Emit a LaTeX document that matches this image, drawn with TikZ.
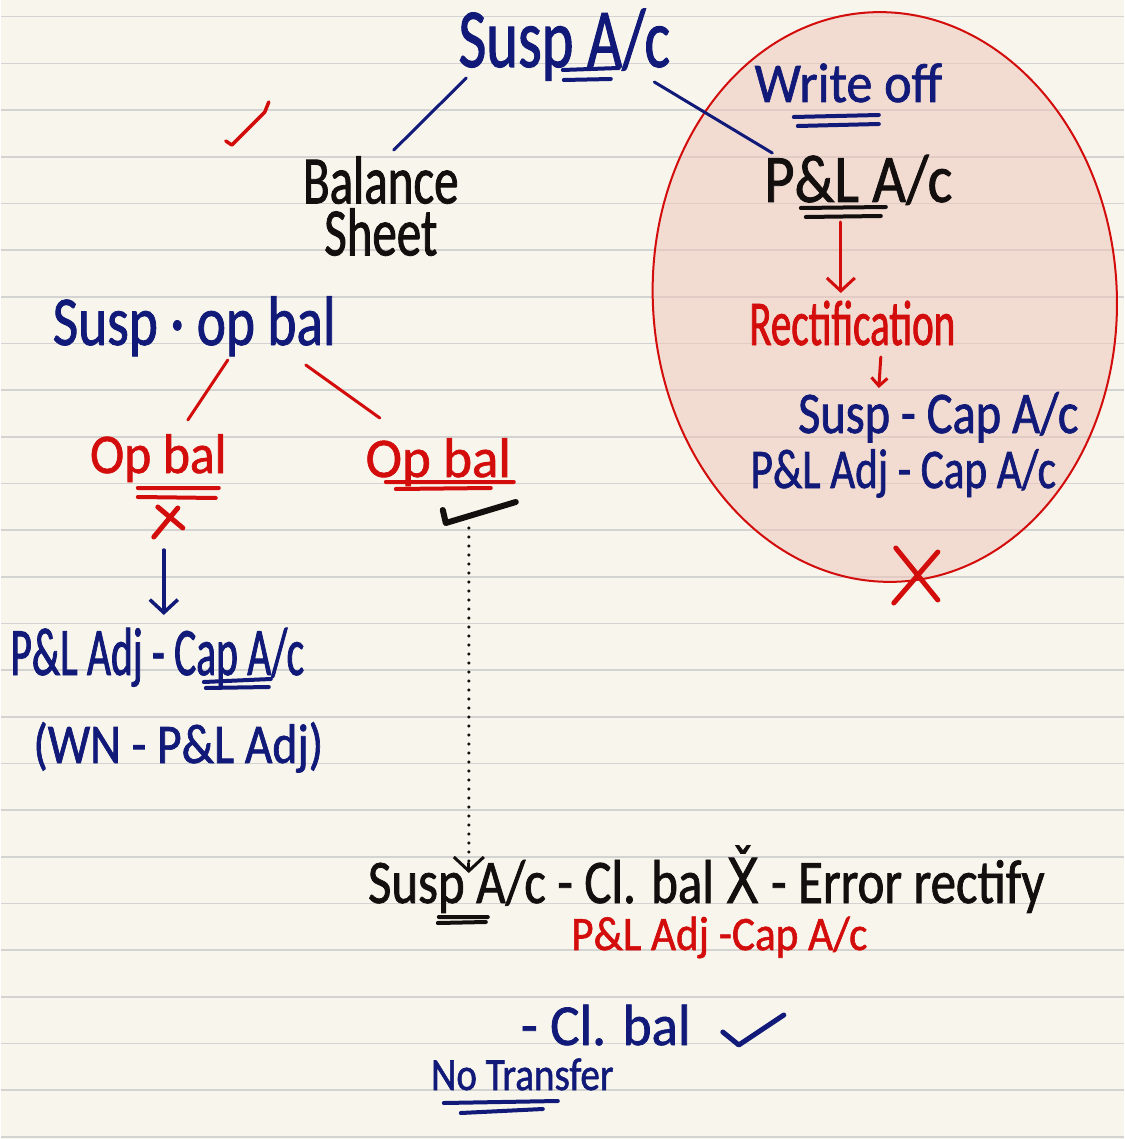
\documentclass[tikz,border=0pt]{standalone}
\usepackage{fontspec}
\newfontfamily\handfont[FakeBold=1.2]{Carlito}
\newfontfamily\markfont[FakeStretch=0.8,FakeBold=1.2]{DejaVu Sans}
\usepackage{xcolor}
\definecolor{notepaper}{HTML}{F8F6EC}
\definecolor{noterule}{HTML}{D3D3D1}
\definecolor{notenavy}{HTML}{111A78}
\definecolor{notered}{HTML}{D30C0C}
\definecolor{noteink}{HTML}{140F0F}
\definecolor{notepink}{HTML}{EEC6BB}
\usepackage{tikz}
\usetikzlibrary{arrows.meta,positioning,calc}
\tikzset{
  notetxt/.style 2 args={inner sep=0pt,anchor=base,font=\handfont\addfontfeatures{FakeStretch=#2}\fontsize{#1}{#1}\selectfont},
  navytxt/.style 2 args={notetxt={#1}{#2},text=notenavy},
  redtxt/.style 2 args={notetxt={#1}{#2},text=notered},
  inktxt/.style 2 args={notetxt={#1}{#2},text=noteink},
  penline/.style={line width=3pt,line cap=round,line join=round},
  penflow/.style={penline,-{Straight Barb[length=13pt,width=28pt]}},
  pendots/.style={line width=3.5pt,line cap=round,dash pattern=on 0pt off 9pt},
  penmark/.style={line width=5pt,line cap=round,line join=round},
  dblul/.style={line width=4pt,line cap=round},
}

\begin{document}
\begin{tikzpicture}[x=1pt,y=-1pt]
% lined paper
\fill[notepaper] (0,0) rectangle (1123,1139);
\foreach \k in {0,...,24}
  \draw[noterule,line width=1.6pt] (0,16.7+46.67*\k) -- (1123,16.7+46.67*\k);
\useasboundingbox (0,0) rectangle (1123,1139);
% write off bubble
\begin{scope}[shift={(884,297)},rotate=3]
  \filldraw[fill=notepink,fill opacity=.55,draw=notered,line width=2pt] (0,0) ellipse [x radius=232,y radius=285];
\end{scope}

\node[navytxt={84}{.72}] (susp) at (563.5,67) {Susp A/c};
\node[inktxt={68}{.72},align=center,anchor=north] (bs) at (380,156) {Balance\\[-16pt]Sheet};
\node[navytxt={70}{.79}] (sob) at (193.5,345) {Susp · op bal};
\node[redtxt={56}{.92}] (oba) at (157.5,473) {Op bal};
\node[redtxt={56}{.98}] (obb) at (437.5,477) {Op bal};
\node[navytxt={68}{.61}] (adja) at (156.5,675) {P\&L Adj - Cap A/c};
\node[navytxt={56}{.85}] (wn) at (177.5,763) {(WN - P\&L Adj)};

\node[navytxt={56}{.93}] (wo) at (847.5,102) {Write off};
\node[inktxt={68}{.86}] (pl) at (857.5,202) {P\&L A/c};
\node[redtxt={64}{.64}] (rect) at (851.5,345) {Rectification};
\node[navytxt={59}{.82}] (scap) at (937.5,433) {Susp - Cap A/c};
\node[navytxt={56}{.77}] (adjb) at (902.5,488) {P\&L Adj - Cap A/c};

\node[inktxt={62}{.82}] (clx) at (705.5,903) {Susp A/c - Cl. bal {\markfont\v{X}} - Error rectify};
\node[redtxt={48}{.90}] (adjc) at (718.5,950) {P\&L Adj -Cap A/c};
\node[navytxt={58}{.95}] (clok) at (605,1045) {- Cl. bal};
\node[navytxt={46}{.85}] (nt) at (521.5,1090) {No Transfer};

% connectors
\draw[penline,notenavy] ($(susp.base)+(-98,11)$) -- ($(bs.north)+(13,-6)$);
\draw[penline,notenavy] ($(susp.base)+(90,15)$) -- ($(pl.base)+(-86,-49)$);
\draw[penline,notered] ($(sob.base)+(33.5,15)$) -- ($(oba.base)+(29.5,-53)$);
\draw[penline,notered] ($(sob.base)+(111.5,20)$) -- ($(obb.base)+(-58.5,-59)$);
\draw[penflow,notenavy,line width=3.5pt] ($(oba.base)+(5.5,77)$) -- ($(adja.base)+(6.5,-60)$);
\draw[penflow,notered] ($(pl.base)+(-17.5,20)$) -- ($(rect.base)+(-11.5,-52)$);
\draw[penline,notered,-{Straight Barb[length=8pt,width=16pt]}] ($(rect.base)+(28.5,12)$) -- ($(scap.base)+(-59.5,-45)$);
\draw[pendots,noteink] ($(obb.base)+(30.5,51)$) coordinate (dtop) -- ($(dtop |- clx.base)+(0,-36)$);
\draw[penline,noteink,-{Straight Barb[length=14pt,width=30pt]}] ($(dtop |- clx.base)+(0,-40)$) -- ($(dtop |- clx.base)+(0,-30)$);

% double underlines
\draw[dblul,notenavy] (562,70) -- (618,68) (563,80) -- (610,79);
\draw[dblul,notenavy] (793,117) -- (878,115) (797,126) -- (878,124);
\draw[dblul,noteink] (800,208) -- (885,207) (805,217) -- (880,216);
\draw[dblul,notered] (137,488) -- (218,488) (137,497) -- (215,498);
\draw[dblul,notered] (385,482) -- (513,482) (395,489) -- (490,488);
\draw[dblul,notenavy] (203,682) -- (270,679) (205,688) -- (268,687);
\draw[dblul,noteink] (438,917) -- (487,917) (437,923) -- (485,922);
\draw[dblul,notenavy] (443,1103) -- (557,1101) (460,1113) -- (542,1109);

% ticks and crosses
\draw[penmark,notered,line width=3.5pt] (225,141) -- (231,145) -- (264,112) -- (268,102);
\draw[penmark,notered] (157,507) -- (182,528) (177,508) -- (153,537);
\draw[penmark,noteink,line width=6pt] (442,510) -- (445,523) -- (515,502);
\draw[penmark,notered] (895,548) -- (937,600) (937,552) -- (893,603);
\draw[penmark,notenavy] (722,1032) -- (738,1045) -- (783,1015);
\end{tikzpicture}
\end{document}
